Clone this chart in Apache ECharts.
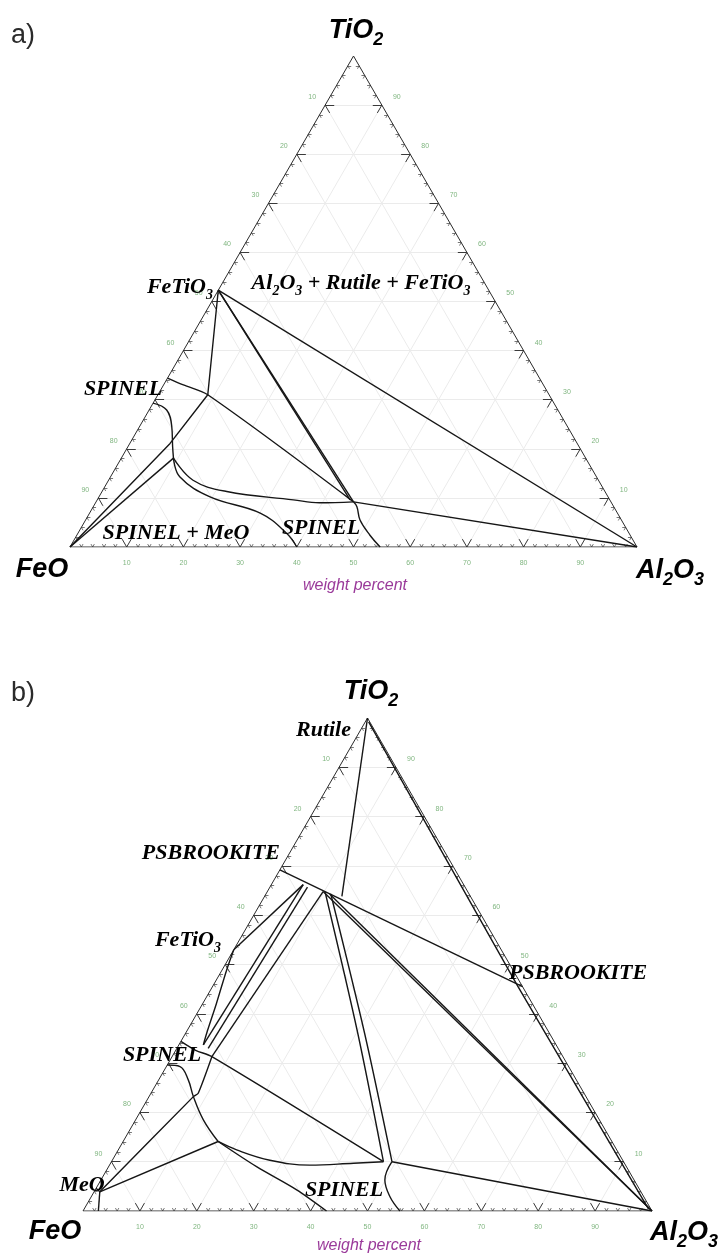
<!DOCTYPE html>
<html>
<head>
<meta charset="utf-8">
<script src="https://cdn.jsdelivr.net/npm/echarts@6/dist/echarts.min.js"></script>
<style>
  html, body { margin: 0; padding: 0; background: #ffffff; }
  #chart { width: 721px; height: 1254px; }
</style>
</head>
<body>
<div id="chart"></div>
<script>
// Compositions are [Al2O3 wt%, TiO2 wt%]; FeO is the remainder to 100.

// ---- axis ticks (wt%) ----
const majorTicks = [10, 20, 30, 40, 50, 60, 70, 80, 90];
const minorTicks = [2, 4, 6, 8, 12, 14, 16, 18, 22, 24, 26, 28, 32, 34, 36, 38, 42, 44, 46, 48,
                    52, 54, 56, 58, 62, 64, 66, 68, 72, 74, 76, 78, 82, 84, 86, 88, 92, 94, 96, 98];
const tickLabels = ['10', '20', '30', '40', '50', '60', '70', '80', '90'];
const vertexNames = ['FeO', 'Al2O3', 'TiO2'];

// ---- panel a: phase boundaries ----
const a_ilmAl2O3     = [[0, 52.3], [100, 0]];
const a_ilmSpinel1   = [[0, 52.3], [45.4, 9.2]];
const a_ilmSpinel2   = [[0, 52.3], [44.6, 9.6]];
const a_ilmFeO       = [[0, 52.3], [8.8, 31.0], [7.1, 21.1], [0, 0]];
const a_spinelUpper  = [[0, 34.4], [3.5, 33.0], [8.8, 31.0], [45.4, 9.2]];
const a_spinelCurve  = [[0, 29.3], [3.1, 27.9], [5.7, 24.5], [7.9, 20.4], [9.2, 18.1]];
const a_liqUpper     = [[9.2, 18.1], [14.9, 13.6], [22.0, 11.3], [34.6, 9.6], [39.5, 9.0], [45.4, 9.2]];
const a_liqLower     = [[9.2, 18.1], [12.2, 14.3], [19.6, 10.2], [30.1, 6.9], [36.8, 2.8], [40.0, 0]];
const a_feoJunction  = [[0, 0], [9.2, 18.1]];
const a_spinelLower  = [[45.4, 9.2], [46.5, 8.2], [48.4, 5.5], [51.7, 2.4], [54.7, 0]];
const a_spinelAl2O3  = [[45.4, 9.2], [100, 0]];

// ---- panel b: phase boundaries ----
const b_psbTie       = [[0, 69.2], [54.5, 45.5]];
const b_rutile       = [[0, 100], [13.6, 63.8]];
const b_rightInner   = [[0.6, 99.2], [53.6, 45.6], [99.2, 0.4]];
const b_ilmPsb       = [[0, 53.0], [5.6, 66.2]];
const b_psbSpinel1   = [[5.6, 66.2], [4.3, 33.7]];
const b_psbSpinel2   = [[6.6, 65.7], [5.5, 33.0]];
const b_psbSpinel3   = [[9.8, 64.8], [7.0, 31.3]];
const b_ilmBoundary  = [[0, 53.0], [0.8, 48.9], [2.4, 42.1], [3.7, 36.1], [4.3, 33.7]];
const b_spinelUpper  = [[0, 34.4], [3.5, 32.6], [7.0, 31.3], [47.8, 10.0]];
const b_spinelDown   = [[7.0, 31.3], [8.3, 23.9], [7.8, 23.2], [1.0, 3.9]];
const b_spinelCurve  = [[0, 29.6], [2.4, 29.3], [5.2, 26.6], [7.8, 23.2], [11.9, 18.5], [16.7, 14.1]];
const b_meoJunction  = [[1.0, 3.9], [16.7, 14.1]];
const b_meoBottom    = [[1.0, 3.9], [2.7, 0]];
const b_meoEdge      = [[1.0, 3.9], [0, 4.6]];
const b_liqUpper     = [[16.7, 14.1], [20.8, 12.4], [27.7, 10.3], [35.2, 9.3], [42.7, 9.7], [47.8, 10.0]];
const b_liqLower     = [[16.7, 14.1], [26.0, 9.0], [35.4, 4.3], [42.8, 0]];
const b_psbAl2O3a    = [[9.8, 64.8], [100, 0]];
const b_psbAl2O3b    = [[11.2, 64.3], [100, 0]];
const b_psbLiq1      = [[10.2, 64.7], [30.3, 36.0], [47.8, 10.0]];
const b_psbLiq2      = [[11.4, 64.3], [31.5, 36.0], [49.3, 10.0]];
const b_spinelLower  = [[49.3, 10.0], [49.9, 6.3], [52.5, 2.9], [55.7, 0]];
const b_spinelAl2O3  = [[49.3, 10.0], [100, 0]];

// ---- text ----
const labelsA = ['FeTiO3', 'Al2O3 + Rutile + FeTiO3', 'SPINEL', 'SPINEL + MeO', 'SPINEL'];
const labelsB = ['Rutile', 'PSBROOKITE', 'FeTiO3', 'SPINEL', 'MeO', 'SPINEL', 'PSBROOKITE'];
const panelTags = ['a)', 'b)'];
const axisTitle = 'weight percent';

// ---- layout (pixels) ----
const layout = [
  {
    grid: { left: 70, top: 56, width: 567, height: 491 },
    tag: [11, 36],
    vertex: [[42, 570], [670, 571], [356, 31]],
    title: [355, 586],
    labels: [[213, 287, 'right'], [361, 283, 'center'], [123, 389, 'center'],
             [176, 533, 'center'], [321, 528, 'center']]
  },
  {
    grid: { left: 83, top: 718, width: 569, height: 493 },
    tag: [11, 694],
    vertex: [[55, 1232], [684, 1233], [371, 692]],
    title: [369, 1246],
    labels: [[351, 730, 'right'], [280, 853, 'right'], [221, 940, 'right'], [162, 1055, 'center'],
             [82, 1185, 'center'], [344, 1190, 'center'], [509, 973, 'left']]
  }
];

const boundariesA = [
  { d: a_ilmAl2O3 }, { d: a_ilmSpinel1 }, { d: a_ilmSpinel2 }, { d: a_ilmFeO },
  { d: a_spinelUpper, s: 0.3 }, { d: a_spinelCurve, s: 0.4 }, { d: a_liqUpper, s: 0.4 },
  { d: a_liqLower, s: 0.4 }, { d: a_feoJunction }, { d: a_spinelLower, s: 0.4 }, { d: a_spinelAl2O3 }
];
const boundariesB = [
  { d: b_psbTie }, { d: b_rutile }, { d: b_rightInner }, { d: b_ilmPsb },
  { d: b_psbSpinel1 }, { d: b_psbSpinel2 }, { d: b_psbSpinel3 }, { d: b_ilmBoundary, s: 0.3 },
  { d: b_spinelUpper, s: 0.3 }, { d: b_spinelDown, s: 0.2 }, { d: b_spinelCurve, s: 0.4 },
  { d: b_meoJunction }, { d: b_meoBottom }, { d: b_meoEdge }, { d: b_liqUpper, s: 0.4 },
  { d: b_liqLower, s: 0.3 }, { d: b_psbAl2O3a }, { d: b_psbAl2O3b }, { d: b_psbLiq1, s: 0.3 },
  { d: b_psbLiq2, s: 0.3 }, { d: b_spinelLower, s: 0.4 }, { d: b_spinelAl2O3 }
];

// ternary [Al2O3, TiO2] -> cartesian units of an equilateral triangle with side 100
const H = Math.sqrt(3) / 2;
function cart(p) { return [p[0] + p[1] / 2, p[1] * H]; }

const INK = '#161616';
const SERIF = '"Liberation Serif", "DejaVu Serif", serif';
const SANS = '"Liberation Sans", Arial, sans-serif';

function chem(txt) {
  return '{n|' + txt.replace(/(\d)/g, '}{s|$1}{n|') + '}';
}
function chemRich(size, sub, family, color) {
  const base = { fontFamily: family, fontStyle: 'italic', fontWeight: 'bold', color: color };
  return {
    n: Object.assign({}, base, { fontSize: size, lineHeight: Math.round(size * 1.35), verticalAlign: 'middle' }),
    s: Object.assign({}, base, { fontSize: sub, verticalAlign: 'bottom' })
  };
}

const grids = [], xAxes = [], yAxes = [], series = [], graphics = [];

function seg(a, b) { return { coords: [cart(a), cart(b)] }; }

layout.forEach(function (L, gi) {
  grids.push(Object.assign({ containLabel: false }, L.grid));
  xAxes.push({ type: 'value', gridIndex: gi, min: 0, max: 100, show: false });
  yAxes.push({ type: 'value', gridIndex: gi, min: 0, max: 100 * H, show: false });

  // reference grid every 10 wt%
  const gridSegs = [];
  majorTicks.forEach(function (k) {
    gridSegs.push(seg([0, k], [100 - k, k]));        // constant TiO2
    gridSegs.push(seg([k, 0], [k, 100 - k]));        // constant Al2O3
    gridSegs.push(seg([100 - k, 0], [0, 100 - k]));  // constant FeO
  });
  series.push({
    type: 'lines', coordinateSystem: 'cartesian2d', xAxisIndex: gi, yAxisIndex: gi,
    data: gridSegs, silent: true, z: 1,
    lineStyle: { color: '#ebebeb', width: 1, opacity: 1 }
  });

  // tick marks along the three edges
  function tickSegs(list, d) {
    const out = [];
    list.forEach(function (k) {
      out.push(seg([k, 0], [k, d]));              out.push(seg([k, 0], [k - d, d]));
      out.push(seg([0, k], [d, k]));              out.push(seg([0, k], [d, k - d]));
      out.push(seg([100 - k, k], [100 - k - d, k])); out.push(seg([100 - k, k], [100 - k, k - d]));
    });
    return out;
  }
  series.push({
    type: 'lines', coordinateSystem: 'cartesian2d', xAxisIndex: gi, yAxisIndex: gi,
    data: tickSegs(majorTicks, 1.6), silent: true, z: 3,
    lineStyle: { color: '#3a3a3a', width: 1, opacity: 1 }
  });
  series.push({
    type: 'lines', coordinateSystem: 'cartesian2d', xAxisIndex: gi, yAxisIndex: gi,
    data: tickSegs(minorTicks, 0.6), silent: true, z: 3,
    lineStyle: { color: '#555', width: 0.8, opacity: 1 }
  });

  // triangle outline
  series.push({
    type: 'line', xAxisIndex: gi, yAxisIndex: gi, symbol: 'none', silent: true, z: 4,
    data: [cart([0, 0]), cart([100, 0]), cart([0, 100]), cart([0, 0])],
    lineStyle: { color: '#2a2a2a', width: 1 }
  });

  // green scale numbers outside each edge
  const tl = [];
  majorTicks.forEach(function (k, i) {
    tl.push({ value: cart([k, 0]), label: { offset: [0, 16] }, name: tickLabels[i] });
    tl.push({ value: cart([0, k]), label: { offset: [-13, -8] }, name: tickLabels[8 - i] });
    tl.push({ value: cart([100 - k, k]), label: { offset: [15, -8] }, name: tickLabels[i] });
  });
  series.push({
    type: 'scatter', xAxisIndex: gi, yAxisIndex: gi, symbolSize: 0, silent: true, z: 3,
    data: tl,
    label: { show: true, position: 'inside', formatter: '{b}', fontSize: 7, color: '#5fa35f', fontFamily: SANS }
  });

  // phase boundaries
  (gi === 0 ? boundariesA : boundariesB).forEach(function (b) {
    series.push({
      type: 'line', xAxisIndex: gi, yAxisIndex: gi, symbol: 'none', silent: true, z: 5,
      smooth: b.s || false, data: b.d.map(cart),
      lineStyle: { color: INK, width: 1.4 }
    });
  });

  // panel tag
  graphics.push({ type: 'text', x: L.tag[0], y: L.tag[1], silent: true,
    style: { text: panelTags[gi], font: '27px ' + SANS, fill: '#2b2b2b', verticalAlign: 'middle', align: 'left' } });

  // vertex names
  vertexNames.forEach(function (nm, vi) {
    graphics.push({ type: 'text', x: L.vertex[vi][0], y: L.vertex[vi][1], silent: true,
      style: { text: chem(nm), rich: chemRich(27, 18, SANS, '#1f21a8'), align: 'center', verticalAlign: 'middle' } });
  });

  // axis title
  graphics.push({ type: 'text', x: L.title[0], y: L.title[1], silent: true,
    style: { text: axisTitle, font: 'italic 16px ' + SANS, fill: '#9a3a9a', align: 'center', verticalAlign: 'middle' } });

  // phase field labels
  const names = gi === 0 ? labelsA : labelsB;
  names.forEach(function (nm, li) {
    const p = L.labels[li];
    graphics.push({ type: 'text', x: p[0], y: p[1], silent: true, z: 10,
      style: { text: chem(nm), rich: chemRich(22, 14, SERIF, '#111'), align: p[2], verticalAlign: 'middle' } });
  });
});

const chart = echarts.init(document.getElementById('chart'), null, { renderer: 'canvas', width: 721, height: 1254 });
chart.setOption({
  animation: false,
  backgroundColor: '#ffffff',
  grid: grids, xAxis: xAxes, yAxis: yAxes,
  series: series,
  graphic: graphics
});
</script>
</body>
</html>
